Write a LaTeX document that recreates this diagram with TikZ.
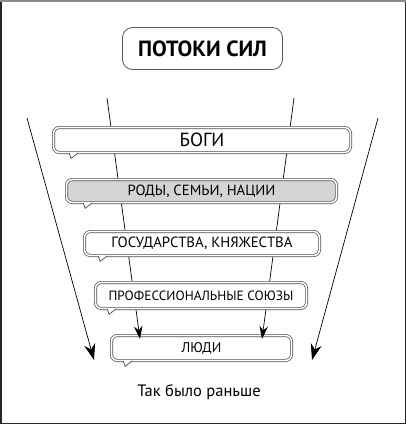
\documentclass[tikz,border=0pt]{standalone}
\usepackage{fontspec}
\setmainfont{PT Sans}
\usetikzlibrary{arrows.meta}

\begin{document}
\begin{tikzpicture}[x=1pt, y=-1pt, >={Stealth[length=13pt,width=8.5pt]},
    tier/.style={draw=black!70, line width=0.7pt, double=white, double distance=1.6pt,
        fill=white, rounded corners=6pt, inner sep=0pt},
    flow/.style={->, line width=0.7pt},
    bigflow/.style={-{Stealth[length=16pt,width=11pt]}, line width=0.7pt},
    tail/.style={draw=black!70, line width=0.7pt, fill=white}]

            % frame and size
            \useasboundingbox (0,0) rectangle (406,424);
            \draw[black!85, line width=1.5pt] (0.75,0.75) rectangle (405.25,423.25);
            \draw[black!45, line width=1.5pt] (0,0.75) -- (406,0.75);

            % Title
            \node[draw=black!65, line width=0.8pt, rounded corners=10pt, minimum width=160pt,
                minimum height=42pt] (title) at (202.5,48.5) {\fontsize{22}{26}\selectfont\bfseries ПОТОКИ СИЛ};

            % Bottom box first, the arrows end on it
            \node[tier, minimum width=180pt, minimum height=25pt] (lyudi) at (201.5,348) {\fontsize{14}{16}\selectfont ЛЮДИ};

            % Ends of the flows
            \coordinate (inl0) at (107,98);
            \coordinate (inl1) at (140,339);
            \coordinate (inr0) at (294,98);
            \coordinate (inr1) at (262,339);
            \coordinate (outl0) at (27,118);
            \coordinate (outl1) at (94,360);
            \coordinate (outr0) at (378,118);
            \coordinate (outr1) at (312,360);

            % Flows
            \draw[flow] (inl0) -- (inl1);
            \draw[flow] (inr0) -- (inr1);
            \draw[bigflow] (outl0) -- (outl1);
            \draw[bigflow] (outr0) -- (outr1);

            % The other levels
            \node[tier, minimum width=297pt, minimum height=25pt] (gods) at (202,140) {\fontsize{19}{22}\selectfont БОГИ};
            \node[tier, fill=black!17, minimum width=270pt, minimum height=23pt] (clans) at (201.5,191) {\fontsize{14.7}{17}\selectfont РОДЫ, СЕМЬИ, НАЦИИ};
            \node[tier, minimum width=235pt, minimum height=24pt] (states) at (202,243.5) {\fontsize{14.8}{17}\selectfont ГОСУДАРСТВА, КНЯЖЕСТВА};
            \node[tier, minimum width=211pt, minimum height=26pt] (unions) at (201,295.5) {\fontsize{13.4}{16}\selectfont ПРОФЕССИОНАЛЬНЫЕ СОЮЗЫ};

            % Bubble tails
            \foreach \b/\dx in {gods/16, clans/17, states/14, unions/12, lyudi/12}
                \path[tail] ([xshift=\dx pt]\b.south west) -- ++(2,5.5) -- ++(7,-5.5);

            % Caption
            \node (caption) at (199,392) {\fontsize{16.5}{19}\selectfont Так было раньше};

        \end{tikzpicture}
\end{document}
